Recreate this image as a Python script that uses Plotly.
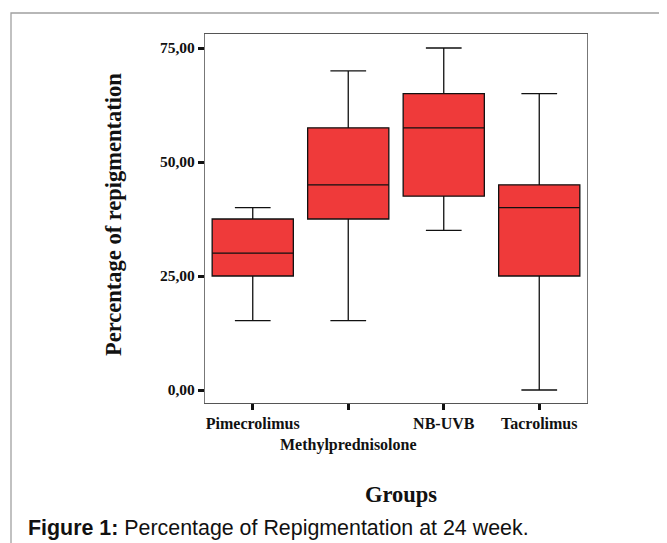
import plotly.graph_objects as go

groups = ["Pimecrolimus", "Methylprednisolone", "NB-UVB", "Tacrolimus"]
tick_labels = ["<b>Pimecrolimus</b>", "<br><b>Methylprednisolone</b>", "<b>NB-UVB</b>", "<b>Tacrolimus</b>"]
lower = [15.2, 15.2, 35.0, 0.0]
q1 = [25.0, 37.5, 42.5, 25.0]
median = [30.0, 45.0, 57.5, 40.0]
q3 = [37.5, 57.5, 65.0, 45.0]
upper = [40.0, 70.0, 75.0, 65.0]
y_ticks = [0, 25, 50, 75]
y_tick_labels = ["<b>0,00</b>", "<b>25,00</b>", "<b>50,00</b>", "<b>75,00</b>"]

OFF = 8  # page body margin
W, H = 667 - OFF, 543 - OFF
# plot area in window pixels: 205..587 x, 34..403 y
L, T = 205 - OFF, 34 - OFF
R = W - (587 - OFF)
B = H - (403 - OFF)

fig = go.Figure()
fig.add_trace(go.Box(
    x=groups, q1=q1, median=median, q3=q3,
    lowerfence=lower, upperfence=upper,
    fillcolor="#EF3A3A",
    line=dict(color="#111111", width=1.3),
    whiskerwidth=0.44,
    width=0.85,
    boxpoints=False,
    showlegend=False,
    hoverinfo="skip",
))

pw = W - L - R
ph = H - T - B
def px_x(x):
    return (x - OFF - L) / pw
def px_y(y):
    return (H - B - (y - OFF)) / ph

fig.add_shape(type="rect", xref="paper", yref="paper",
              x0=px_x(11), x1=px_x(690), y0=px_y(13), y1=px_y(570),
              line=dict(color="#A0A0A0", width=1.3), layer="below")

fig.update_layout(
    width=W, height=H,
    margin=dict(l=L, r=R, t=T, b=B),
    paper_bgcolor="white", plot_bgcolor="white",
    font=dict(family="Liberation Serif", color="#111111"),
    xaxis=dict(
        type="category", range=[-0.5, 3.5],
        tickvals=groups, ticktext=tick_labels, tickangle=0,
        ticks="outside", ticklen=6, tickwidth=2.5, tickcolor="#111111",
        tickfont=dict(family="Liberation Serif", size=16, color="#111111"),
        showline=True, linecolor="#555555", linewidth=1.3, mirror=True,
        showgrid=False, zeroline=False,
    ),
    yaxis=dict(
        range=[-2.85, 78.07],
        tickvals=y_ticks, ticktext=y_tick_labels,
        ticks="outside", ticklen=6, tickwidth=2.5, tickcolor="#111111",
        tickfont=dict(family="Liberation Serif", size=15.5, color="#111111"),
        showline=True, linecolor="#777777", linewidth=1.3, mirror=True,
        showgrid=False, zeroline=False,
    ),
)

fig.add_annotation(text="<b>Percentage of repigmentation</b>", xref="paper", yref="paper",
                   x=px_x(113), y=px_y(215), textangle=-90, showarrow=False,
                   font=dict(family="Liberation Serif", size=22.5, color="#111111"),
                   xanchor="center", yanchor="middle")
fig.add_annotation(text="<b>Groups</b>", xref="paper", yref="paper",
                   x=px_x(401), y=px_y(494), showarrow=False,
                   font=dict(family="Liberation Serif", size=22.5, color="#111111"),
                   xanchor="center", yanchor="middle")
fig.add_annotation(text="<b>Figure 1:</b> Percentage of Repigmentation at 24 week.", xref="paper", yref="paper",
                   x=px_x(26), y=px_y(528), showarrow=False,
                   font=dict(family="Liberation Sans", size=21.4, color="#111111"),
                   xanchor="left", yanchor="middle")

fig.write_html("out.html")
